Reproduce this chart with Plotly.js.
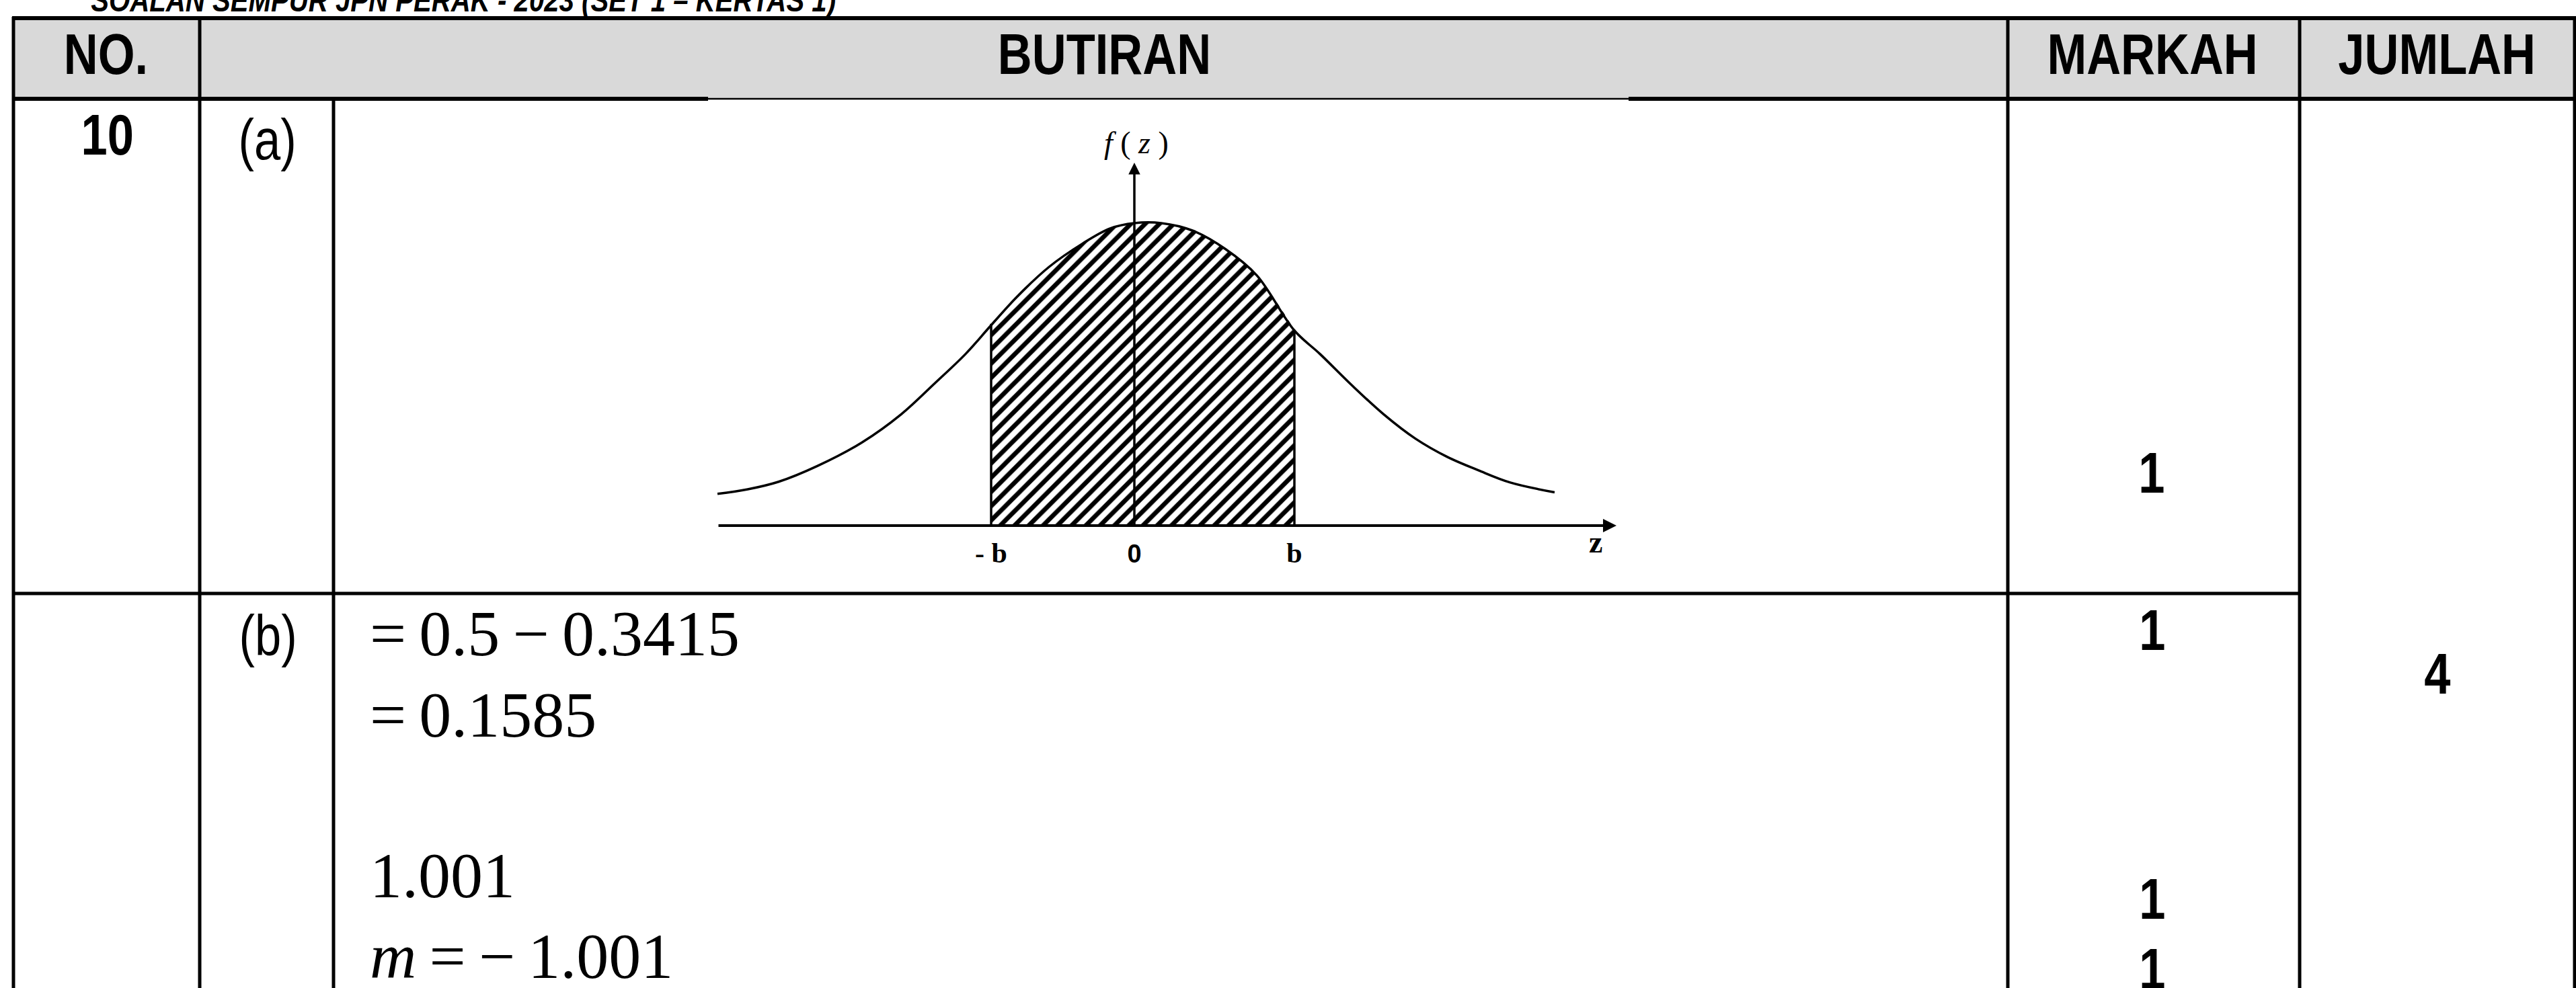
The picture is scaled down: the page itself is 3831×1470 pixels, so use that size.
<!DOCTYPE html>
<html><head><meta charset="utf-8">
<script src="https://cdn.plot.ly/plotly-3.0.1.min.js"></script>
<style>html,body{margin:0;padding:0;background:#fff;overflow:hidden}</style>
</head><body><div id="chart" style="width:3831px;height:1470px"></div>
<script>
// ---------- data ----------
const curveZ = [-2.48,-2.30,-2.116,-1.884,-1.62,-1.388,-1.188,-1.004,-0.856,-0.692,-0.508,-0.308,-0.144,0,0.16,0.348,0.54,0.728,0.952,1.104,1.292,1.484,1.672,1.86,2.048,2.236,2.50];
const curveF = [0.042,0.048,0.058,0.079,0.110,0.147,0.188,0.227,0.264,0.304,0.342,0.373,0.393,0.400,0.400,0.390,0.366,0.331,0.258,0.227,0.186,0.147,0.115,0.091,0.073,0.057,0.044];
const shadeZ = [-0.852,-0.692,-0.508,-0.308,-0.144,0,0.16,0.348,0.54,0.728,0.952];
const shadeF = [0.267,0.304,0.342,0.373,0.393,0.400,0.400,0.390,0.366,0.331,0.259];
const bLeft = -0.852, bRight = 0.952;
const bLeftTop = 0.267, bRightTop = 0.259;
const axisZ = [-2.48, 2.868];
const axisFTop = 0.48;
const zTickVals = [bLeft, 0, bRight];
const zTickText = ['<b>- b</b>', '<span style="font-family:Liberation Sans,Arial,sans-serif;font-size:38px"><b>0</b></span>', '<b>b</b>'];
const headers = ['NO.', 'BUTIRAN', 'MARKAH', 'JUMLAH'];
const questionNo = '10';
const parts = ['(a)', '(b)'];
const workingB = ['=\u20090.5\u2009\u2212\u20090.3415', '=\u20090.1585', '1.001', '<i>m</i>\u2009=\u2009\u2212\u20091.001'];
const marksA = ['1'];
const marksB = ['1', '1', '1'];
const totalMarks = '4';
const pageTitle = 'SOALAN SEMPUR JPN PERAK - 2023 (SET 1 \u2013 KERTAS 1)';

// ---------- layout helpers ----------
const W = 3831, H = 1470;
const X = v => v / W;
const Y = v => 1 - v / H;
const SANS = 'Liberation Sans, Arial, sans-serif';
const SERIF = 'Liberation Serif, Times New Roman, serif';
const NARROW_SCALE = 0.82;   // Arial Narrow look

function hline(y, x0, x1, w) {
  return {type:'line', xref:'paper', yref:'paper', x0:X(x0), x1:X(x1), y0:Y(y), y1:Y(y), line:{color:'#000', width:w}};
}
function vline(x, y0, y1, w) {
  return {type:'line', xref:'paper', yref:'paper', x0:X(x), x1:X(x), y0:Y(y0), y1:Y(y1), line:{color:'#000', width:w}};
}
const annotations = [];
const narrowIdx = [];
function txt(text, x, y, size, opts, narrow) {
  const a = Object.assign({xref:'paper', yref:'paper', x:X(x), y:Y(y), text:text, showarrow:false,
    xanchor:'center', yanchor:'middle', font:{family:SANS, size:size, color:'#000'}}, opts || {});
  if (narrow) narrowIdx.push(annotations.length);
  annotations.push(a);
}

const shapes = [
  {type:'rect', xref:'paper', yref:'paper', x0:X(20), x1:X(3829), y0:Y(27), y1:Y(147), fillcolor:'#d9d9d9', line:{width:0}, layer:'below'},
  hline(27, 18, 3831, 6),
  hline(147, 18, 1053, 6),
  hline(147, 1053, 2422, 2.5),
  hline(147, 2422, 3831, 6),
  hline(883, 18, 3420, 5),
  vline(20, 25, 1470, 5),
  vline(297, 25, 1470, 5),
  vline(496, 147, 1470, 5),
  vline(2986, 25, 1470, 5),
  vline(3420, 25, 1470, 5),
  vline(3829, 25, 1470, 5)
];

txt(pageTitle, 133, 0, 49, {xanchor:'left', font:{family:SANS, size:49, color:'#000', weight:'bold', style:'italic'}}, true);
txt('<b>' + headers[0] + '</b>', 157, 80, 86, null, true);
txt('<b>' + headers[1] + '</b>', 1642, 80, 86, null, true);
txt('<b>' + headers[2] + '</b>', 3201, 80, 86, null, true);
txt('<b>' + headers[3] + '</b>', 3624, 80, 86, null, true);
txt('<b>' + questionNo + '</b>', 160, 200, 86, null, true);
txt(parts[0], 397, 207, 86, null, true);
txt(parts[1], 398, 945, 86, null, true);
txt('<b>' + marksA[0] + '</b>', 3200, 703, 86, null, true);
txt('<b>' + marksB[0] + '</b>', 3201, 937, 86, null, true);
txt('<b>' + marksB[1] + '</b>', 3201, 1337, 86, null, true);
txt('<b>' + marksB[2] + '</b>', 3201, 1441, 86, null, true);
txt('<b>' + totalMarks + '</b>', 3625, 1002, 86, null, true);
const serif96 = {xanchor:'left', font:{family:SERIF, size:96, color:'#000'}};
txt(workingB[0], 548, 942, 96, serif96);
txt(workingB[1], 548, 1063, 96, serif96);
txt(workingB[2], 548, 1302, 96, serif96);
txt(workingB[3], 548, 1422, 96, serif96);
// chart labels
txt('<i>f</i> ( <i>z</i> )', 1690, 212, 46, {font:{family:SERIF, size:46, color:'#000'}});
txt('<b>z</b>', 2373, 806, 46, {font:{family:SERIF, size:46, color:'#000'}});
// axes with arrowheads
annotations.push({x:axisZ[1], y:0, ax:axisZ[0], ay:0, xref:'x', yref:'y', axref:'x', ayref:'y', text:'', showarrow:true,
   arrowhead:2, arrowsize:1, arrowwidth:4, arrowcolor:'#000', standoff:0, startstandoff:0});
annotations.push({x:0, y:axisFTop, ax:0, ay:0, xref:'x', yref:'y', axref:'x', ayref:'y', text:'', showarrow:true,
   arrowhead:2, arrowsize:1, arrowwidth:3.5, arrowcolor:'#000', standoff:0, startstandoff:0});

const traces = [
  {x:shadeZ, y:shadeF, type:'scatter', mode:'lines', line:{width:0, shape:'spline', color:'rgba(0,0,0,0)'},
   fill:'tozeroy', fillcolor:'#fff',
   fillpattern:{shape:'/', size:15, solidity:0.45, fgcolor:'#000', bgcolor:'#fff'}, hoverinfo:'skip'},
  {x:curveZ, y:curveF, type:'scatter', mode:'lines', line:{color:'#000', width:3.5, shape:'spline', smoothing:1}, hoverinfo:'skip'},
  {x:[bLeft, bLeft, null, bRight, bRight], y:[0, bLeftTop, null, 0, bRightTop], type:'scatter', mode:'lines',
   line:{color:'#000', width:3.5}, hoverinfo:'skip'}
];

const layout = {
  width:W, height:H, margin:{l:0, r:0, t:0, b:0, pad:0},
  paper_bgcolor:'#fff', plot_bgcolor:'rgba(0,0,0,0)', showlegend:false,
  xaxis:{domain:[X(1050), X(2420)], range:[(1050-1687)/250, (2420-1687)/250], fixedrange:true,
         showgrid:false, zeroline:false, showline:false, ticks:'',
         tickmode:'array', tickvals:zTickVals, ticktext:zTickText,
         tickfont:{family:SERIF, size:42, color:'#000'}},
  yaxis:{domain:[Y(794), Y(180)], range:[(782-794)/1125, (782-180)/1125], fixedrange:true, visible:false},
  shapes:shapes, annotations:annotations
};

Plotly.newPlot('chart', traces, layout, {staticPlot:true, displayModeBar:false}).then(function (gd) {
  narrowIdx.forEach(function (i) {
    const t = gd.querySelector('g.annotation[data-index="' + i + '"] text.annotation-text');
    if (!t) return;
    const bb = t.getBBox();
    const left = annotations[i].xanchor === 'left';
    const cx = left ? bb.x : bb.x + bb.width / 2;
    t.setAttribute('transform', 'translate(' + cx + ',0) scale(' + NARROW_SCALE + ',1) translate(' + (-cx) + ',0)');
  });
});
</script></body></html>
